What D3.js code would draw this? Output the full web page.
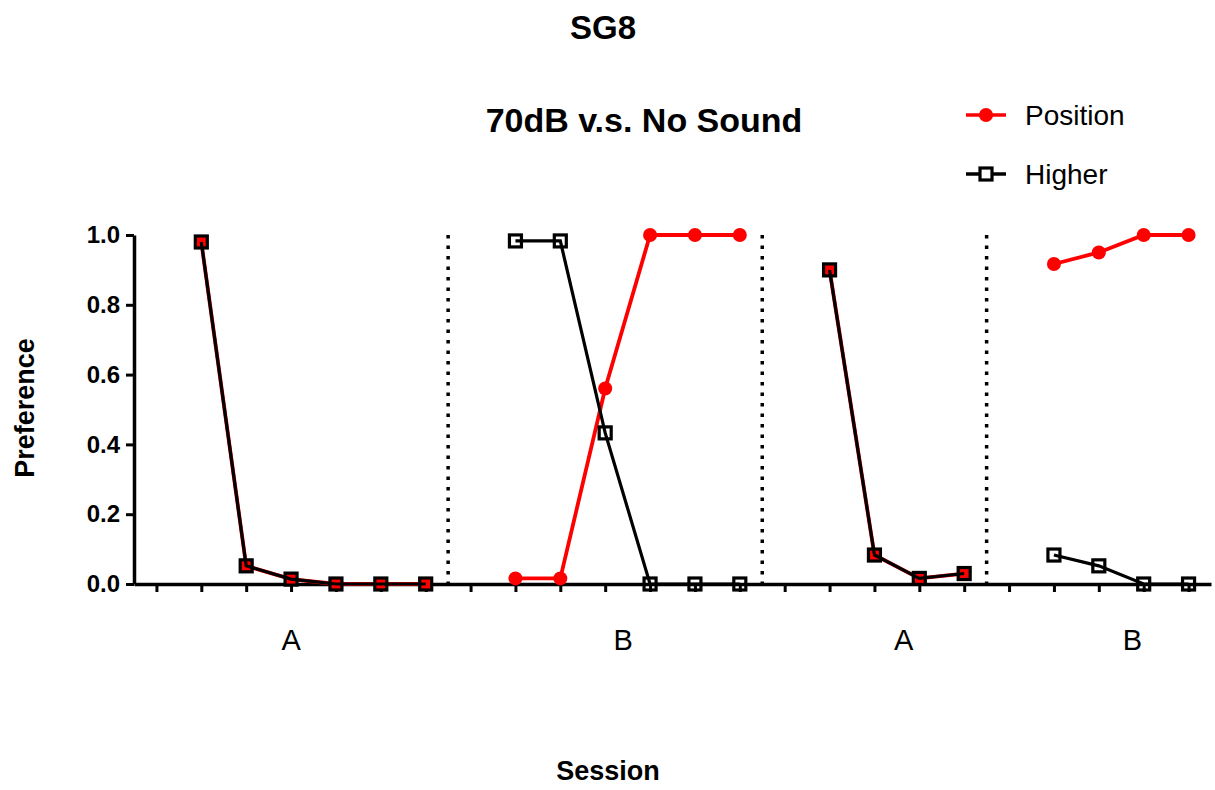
<!DOCTYPE html>
<html>
<head>
<meta charset="utf-8">
<script src="https://cdn.jsdelivr.net/npm/d3@7"></script>
<style>
  body { margin: 0; background: #fff; }
  text { font-family: "Liberation Sans", Arial, sans-serif; }
</style>
</head>
<body>
<div class="container"></div>
<script>
const w = 1215;
const h = 790;

// session numbers and the phase each one belongs to
const sessions = [2, 3, 4, 5, 6, 7, 9, 10, 11, 12, 13, 14, 16, 17, 18, 19, 21, 22, 23, 24];
const phaseOf  = [0, 0, 0, 0, 0, 0, 1, 1, 1, 1, 1, 1, 2, 2, 2, 2, 3, 3, 3, 3];
const position = [0.98, 0.052, 0.014, 0, 0, 0, 0.016, 0.016, 0.56, 1, 1, 1, 0.9, 0.083, 0.016, 0.03, 0.917, 0.95, 1, 1];
const higher   = [0.98, 0.052, 0.014, 0, 0, 0, 0.983, 0.983, 0.433, 0, 0, 0, 0.9, 0.083, 0.016, 0.03, 0.083, 0.052, 0, 0];
const phaseLabels = ['A', 'B', 'A', 'B'];
const phaseLabelAt = [4, 11.4, 17.65, 22.75];
const phaseBreaks = [7.5, 14.5, 19.5];
const yTicks = [0, 0.2, 0.4, 0.6, 0.8, 1.0];

const svg = d3.select('.container').append('svg')
    .attr('width', w)
    .attr('height', h);

const x = d3.scaleLinear().domain([0.5, 24.5]).range([134, 1211]);
const y = d3.scaleLinear().domain([0, 1]).range([584, 235]);

// titles
svg.append('text')
    .attr('x', 603).attr('y', 27)
    .attr('dy', '0.35em')
    .attr('text-anchor', 'middle')
    .style('font-size', '33px').style('font-weight', 'bold')
    .text('SG8');

svg.append('text')
    .attr('x', 644).attr('y', 120)
    .attr('dy', '0.35em')
    .attr('text-anchor', 'middle')
    .style('font-size', '34px').style('font-weight', 'bold')
    .text('70dB v.s. No Sound');

// phase separators
svg.selectAll('.sep')
    .data(phaseBreaks)
    .enter()
    .append('line')
      .attr('class', 'sep')
      .attr('x1', d => x(d)).attr('x2', d => x(d))
      .attr('y1', y(1)).attr('y2', y(0))
      .attr('stroke', '#000')
      .attr('stroke-width', 3.5)
      .attr('stroke-dasharray', '3.5,7');

// axes
const yAxis = d3.axisLeft(y)
    .tickValues(yTicks)
    .tickFormat(d3.format('.1f'))
    .tickSize(8)
    .tickSizeOuter(0)
    .tickPadding(6);

const xAxis = d3.axisBottom(x)
    .tickValues(d3.range(1, 25))
    .tickFormat('')
    .tickSize(8)
    .tickSizeOuter(0);

const gy = svg.append('g')
    .attr('transform', `translate(${x(0.5)}, 0)`)
    .call(yAxis);

const gx = svg.append('g')
    .attr('transform', `translate(0, ${y(0)})`)
    .call(xAxis);

[gx, gy].forEach(g => {
  g.select('.domain').attr('stroke-width', 3.5);
  g.selectAll('.tick line').attr('stroke-width', 3);
});
gy.selectAll('.tick text')
    .style('font-size', '24px')
    .style('font-weight', 'bold')
    .attr('fill', '#000');

// phase labels under the axis
svg.selectAll('.phase')
    .data(phaseLabels)
    .enter()
    .append('text')
      .attr('class', 'phase')
      .attr('x', (d, i) => x(phaseLabelAt[i]))
      .attr('y', 640)
      .attr('dy', '0.35em')
      .attr('text-anchor', 'middle')
      .style('font-size', '29px')
      .text(d => d);

// axis titles
svg.append('text')
    .attr('transform', 'translate(25, 408) rotate(-90)')
    .attr('dy', '0.35em')
    .attr('text-anchor', 'middle')
    .style('font-size', '27px').style('font-weight', 'bold')
    .text('Preference');

svg.append('text')
    .attr('x', 608).attr('y', 771)
    .attr('dy', '0.35em')
    .attr('text-anchor', 'middle')
    .style('font-size', '27px').style('font-weight', 'bold')
    .text('Session');

// data lines, one segment per phase
const pts = sessions.map((s, i) => ({s, phase: phaseOf[i], pos: position[i], hi: higher[i]}));
const byPhase = Array.from(d3.group(pts, d => d.phase).values());

const posLine = d3.line().x(d => x(d.s)).y(d => y(d.pos));
const hiLine = d3.line().x(d => x(d.s)).y(d => y(d.hi));

svg.selectAll('.pos-line')
    .data(byPhase)
    .enter()
    .append('path')
      .attr('class', 'pos-line')
      .attr('d', posLine)
      .attr('fill', 'none')
      .attr('stroke', '#ff0000')
      .attr('stroke-width', 3.8);

svg.selectAll('.pos-dot')
    .data(pts)
    .enter()
    .append('circle')
      .attr('class', 'pos-dot')
      .attr('cx', d => x(d.s))
      .attr('cy', d => y(d.pos))
      .attr('r', 7)
      .attr('fill', '#ff0000');

svg.selectAll('.hi-line')
    .data(byPhase)
    .enter()
    .append('path')
      .attr('class', 'hi-line')
      .attr('d', hiLine)
      .attr('fill', 'none')
      .attr('stroke', '#000')
      .attr('stroke-width', 3.2);

const sq = 12;
svg.selectAll('.hi-sq')
    .data(pts)
    .enter()
    .append('rect')
      .attr('class', 'hi-sq')
      .attr('x', d => x(d.s) - sq / 2)
      .attr('y', d => y(d.hi) - sq / 2)
      .attr('width', sq)
      .attr('height', sq)
      .attr('fill', 'none')
      .attr('stroke', '#000')
      .attr('stroke-width', 3.2);

// legend
const legend = svg.append('g');
const legendItems = [
  {name: 'Position', y: 115, color: '#ff0000', marker: 'circle'},
  {name: 'Higher', y: 174, color: '#000', marker: 'square'}
];
legendItems.forEach(d => {
  legend.append('line')
      .attr('x1', 966).attr('x2', 1006)
      .attr('y1', d.y).attr('y2', d.y)
      .attr('stroke', d.color)
      .attr('stroke-width', 3.5);
  if (d.marker === 'circle') {
    legend.append('circle')
        .attr('cx', 986).attr('cy', d.y).attr('r', 7)
        .attr('fill', d.color);
  } else {
    legend.append('rect')
        .attr('x', 986 - sq / 2).attr('y', d.y - sq / 2)
        .attr('width', sq).attr('height', sq)
        .attr('fill', '#fff')
        .attr('stroke', d.color)
        .attr('stroke-width', 3.2);
  }
  legend.append('text')
      .attr('x', 1025).attr('y', d.y)
      .attr('dy', '0.35em')
      .style('font-size', '28px')
      .text(d.name);
});
</script>
</body>
</html>
